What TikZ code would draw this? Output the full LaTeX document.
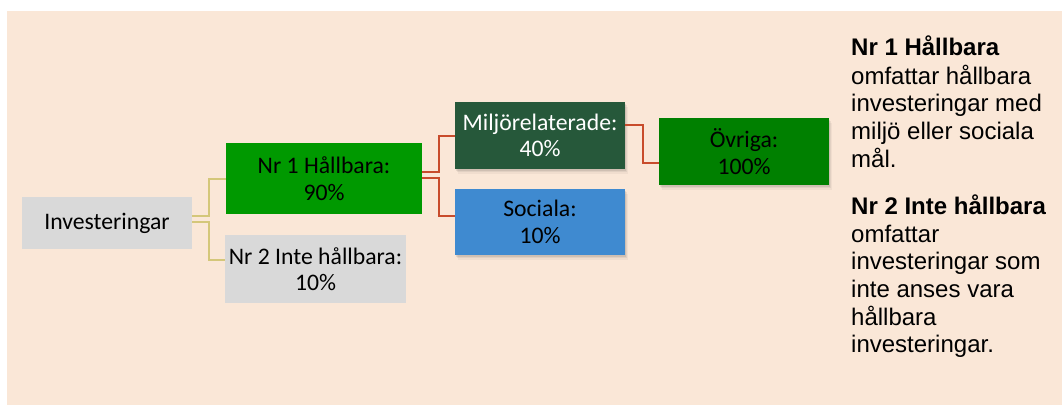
\documentclass[tikz,border=0pt]{standalone}
\usepackage{fontspec}
\setmainfont{Carlito}
\newfontfamily\arialfont{Liberation Sans}
\usetikzlibrary{shadows}
\definecolor{bgc}{RGB}{250,231,215}
\definecolor{greyc}{RGB}{217,217,217}
\definecolor{nronec}{RGB}{0,153,0}
\definecolor{miljc}{RGB}{38,88,58}
\definecolor{socc}{RGB}{63,138,208}
\definecolor{ovrc}{RGB}{0,128,0}
\definecolor{yelc}{RGB}{212,199,122}
\definecolor{redc}{RGB}{200,76,44}
\tikzset{
  box/.style={inner sep=0pt, align=center, font=\fontsize{23.7}{26.5}\selectfont},
  shad/.style={
    drop shadow={shadow xshift=1pt, shadow yshift=-1.5pt, opacity=0.08, fill=black},
    drop shadow={shadow xshift=2pt, shadow yshift=-3pt, opacity=0.06, fill=black},
    drop shadow={shadow xshift=3pt, shadow yshift=-4.5pt, opacity=0.04, fill=black}},
  yline/.style={draw=yelc, line width=2pt},
  rline/.style={draw=redc, line width=2pt},
  note/.style={anchor=north west, inner sep=0pt, align=left, font=\arialfont\fontsize{24}{27.6}\selectfont}
}
\begin{document}
\begin{tikzpicture}[x=1pt, y=-1pt]
\useasboundingbox (0,0) rectangle (1062,405);
\fill[bgc] (7,11) rectangle (1062,405);

\node[box, fill=greyc, minimum width=170pt, minimum height=52pt] (inv) at (107,223) {Investeringar};
\node[box, fill=nronec, minimum width=196pt, minimum height=71pt] (h1) at (324,178.5) {Nr 1 Hållbara:\\90\%};
\node[box, fill=greyc, minimum width=181pt, minimum height=68pt] (h2) at (315.5,269) {Nr 2 Inte hållbara:\\10\%};
\node[box, shad, fill=miljc, text=white, minimum width=170pt, minimum height=67pt] (milj) at (540,135.5) {Miljörelaterade:\\40\%};
\node[box, shad, fill=socc, minimum width=170pt, minimum height=66pt] (soc) at (540,222) {Sociala:\\10\%};
\node[box, shad, fill=ovrc, minimum width=170pt, minimum height=67pt] (ovr) at (744,151.5) {Övriga:\\100\%};

\draw[yline] ([yshift=7pt]inv.east) -- ++(17,0) |- (h1.west);
\draw[yline] ([yshift=1pt]inv.east) -- ++(17,0) |- ([yshift=9pt]h2.west);
\draw[rline] ([yshift=6.5pt]h1.east) -- ++(17,0) |- (milj.west);
\draw[rline] ([yshift=0.5pt]h1.east) -- ++(17,0) |- ([yshift=6pt]soc.west);
\draw[rline] ([yshift=10.5pt]milj.east) -- ++(18,0) |- ([yshift=-11.5pt]ovr.west);

\node[note] (p1) at (851,35.7) {\strut\textbf{Nr 1 Hållbara}\\omfattar hållbara\\investeringar med\\miljö eller sociala\\mål.};
\node[note] (p2) at (851,194.7) {\strut\textbf{Nr 2 Inte hållbara}\\omfattar\\investeringar som\\inte anses vara\\hållbara\\investeringar.};
\end{tikzpicture}
\end{document}
